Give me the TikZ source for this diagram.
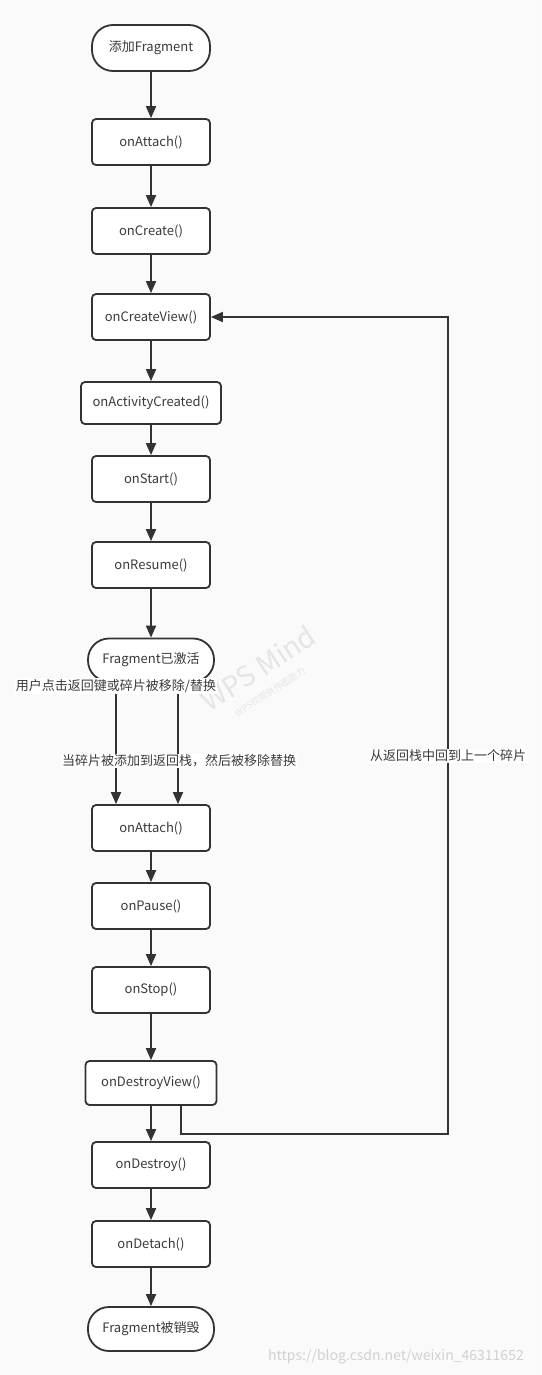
\documentclass[tikz,border=0pt]{standalone}
\usepackage{fontspec}
\setmainfont{Noto Sans CJK SC}
\usepackage{xcolor}
\usetikzlibrary{arrows.meta, positioning, calc}
\definecolor{linegray}{HTML}{333333}
\definecolor{bggray}{HTML}{FAFAFA}
\definecolor{textgray}{HTML}{3A3A3A}
\begin{document}
\begin{tikzpicture}[x=1pt, y=-1pt,
  every node/.style={font=\fontsize{13}{15}\selectfont, text=textgray},
  stepbox/.style={draw=linegray, line width=1.8pt, fill=white, rounded corners=4pt,
    minimum width=118pt, minimum height=46pt, inner sep=2pt},
  endbox/.style={stepbox, rounded corners=21pt},
  flow/.style={draw=linegray, line width=1.8pt, -{Triangle[length=12pt, width=10pt]}},
  lbl/.style={fill=white, inner sep=1pt}
]
\useasboundingbox (0,0) rectangle (541,1375);
\fill[bggray] (0,0) rectangle (541,1375);
% watermark
\node[rotate=33, text=black!10, font=\fontsize{28}{30}\selectfont] (wm) at (258,668) {WPS Mind};
\node[rotate=33, text=black!10, font=\fontsize{9}{10}\selectfont] (wmsub) at (270,692) {WPS仅提供作图能力};
% start-up
\node[endbox] (add) at (151,48) {添加Fragment};
\node[stepbox] (attach) at (151,142) {onAttach()};
\node[stepbox] (create) at (151,231) {onCreate()};
\node[stepbox] (view) at (151,317) {onCreateView()};
\node[stepbox, minimum width=140pt, minimum height=42pt] (activity) at (151,403) {onActivityCreated()};
\node[stepbox] (start) at (151,479) {onStart()};
\node[stepbox] (resume) at (151,565) {onResume()};
\node[endbox, minimum width=126pt, minimum height=43pt] (active) at (151,660) {Fragment已激活};
% tear-down
\node[stepbox] (attach2) at (151,828) {onAttach()};
\node[stepbox] (pause) at (151,906) {onPause()};
\node[stepbox] (stop) at (151,990) {onStop()};
\node[stepbox, minimum width=131pt, minimum height=44pt] (destroyview) at (151,1083) {onDestroyView()};
\node[stepbox] (destroy) at (151,1165) {onDestroy()};
\node[stepbox] (detach) at (151,1244) {onDetach()};
\node[endbox, minimum width=126pt, minimum height=44pt] (gone) at (151,1329) {Fragment被销毁};
% arrows
\foreach \a/\b in {add/attach, attach/create, create/view, view/activity, activity/start,
  start/resume, resume/active, attach2/pause, pause/stop, stop/destroyview,
  destroyview/destroy, destroy/detach, detach/gone}
  \draw[flow] (\a) -- (\b);
\draw[flow] (active.south -| 116,0) -- (attach2.north -| 116,0);
\draw[flow] (active.south -| 178,0) -- (attach2.north -| 178,0);
\node[lbl] (back) at (116,686) {用户点击返回键或碎片被移除/替换};
\node[lbl] (stack) at (179,761) {当碎片被添加到返回栈，然后被移除替换};
% back stack loop
\coordinate (c1) at (181,1134);
\coordinate (c2) at (448,1134);
\coordinate (c3) at (448,317);
\draw[flow] (destroyview.south -| c1) -- (c1) -- (c2) -- (c3) -- (view.east);
\node[lbl] (loop) at (448,756) {从返回栈中回到上一个碎片};
\node[text=black!18, font=\fontsize{14}{16}\selectfont] (url) at (396,1357) {https://blog.csdn.net/weixin\_46311652};
\end{tikzpicture}
\end{document}
